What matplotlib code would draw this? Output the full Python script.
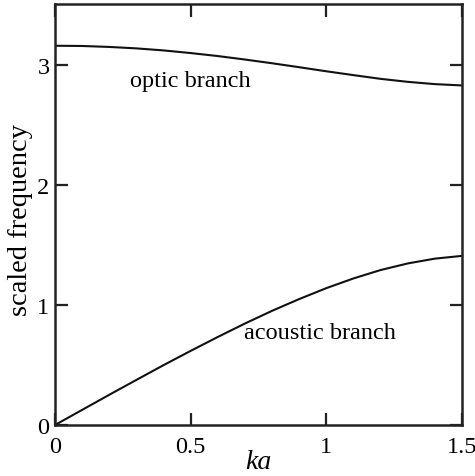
import matplotlib
matplotlib.use("Agg")
import matplotlib.pyplot as plt

# values
ka = [0.0, 0.1, 0.2, 0.3, 0.4, 0.5, 0.6, 0.7, 0.8, 0.9, 1.0, 1.1, 1.2, 1.3, 1.4, 1.5]
optic = [3.162, 3.160, 3.152, 3.140, 3.123, 3.101, 3.076, 3.047, 3.016, 2.983,
         2.949, 2.917, 2.886, 2.861, 2.842, 2.831]
acoustic = [0.0, 0.126, 0.252, 0.376, 0.499, 0.618, 0.734, 0.846, 0.952, 1.050,
            1.141, 1.222, 1.292, 1.347, 1.387, 1.410]
xticks = [0, 0.5, 1, 1.5]
xticklabels = ["0", "0.5", "1", "1.5"]
yticks = [0, 1, 2, 3]

plt.rcParams["font.family"] = ["Liberation Serif", "DejaVu Serif"]

fig = plt.figure(figsize=(4.75, 4.77), dpi=100)
ax = fig.add_axes([55 / 475, 51 / 477, 407 / 475, 421 / 477])

ax.plot(ka, optic, color="#111111", lw=1.5)
ax.plot(ka, acoustic, color="#111111", lw=1.5)

ax.set_xlim(0, 1.5)
ax.set_ylim(0, 3.51)
ax.set_xticks(xticks)
ax.set_xticklabels(xticklabels)
ax.set_yticks(yticks)
ax.tick_params(direction="in", length=9, width=1.6, labelsize=17.5,
               top=True, right=True, color="#222222")
ax.tick_params(axis="x", pad=8)
ax.tick_params(axis="y", pad=4)
for s in ax.spines.values():
    s.set_linewidth(1.8)
    s.set_color("#222222")

ax.text(0.277, 2.87, "optic branch", fontsize=17.5, va="center", ha="left")
ax.text(0.697, 0.77, "acoustic branch", fontsize=17.5, va="center", ha="left")

ax.set_ylabel("scaled frequency", fontsize=20.5)
ax.yaxis.set_label_coords(-0.053, 0.49)
ax.set_xlabel("ka", fontsize=20, style="italic", labelpad=-6)

fig.savefig("out.png", dpi=100)
